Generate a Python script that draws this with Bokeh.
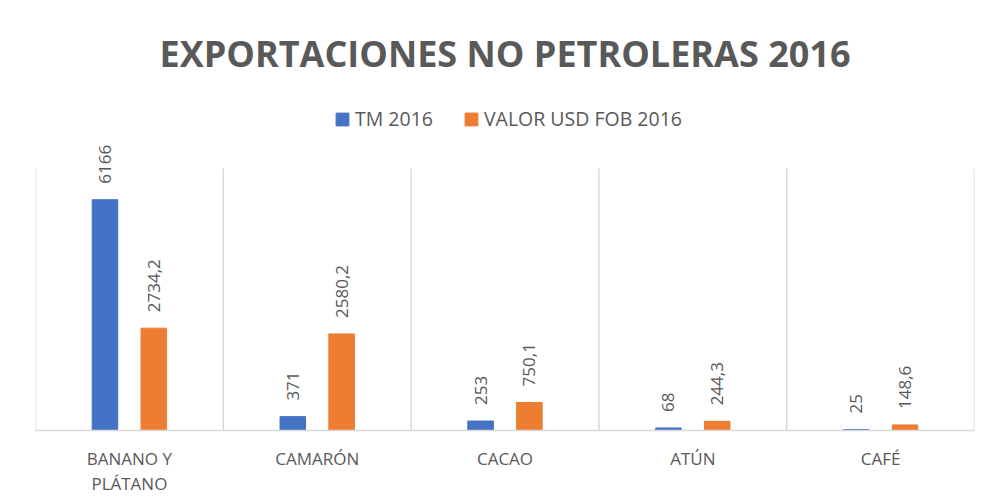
import math
from bokeh.plotting import figure
from bokeh.models import ColumnDataSource, Range1d, FixedTicker, Legend, LegendItem, LabelSet
from bokeh.core.properties import value
from bokeh.transform import dodge
from bokeh.embed import file_html
from bokeh.resources import INLINE

# ---- data ----
categories = ["BANANO Y PLÁTANO", "CAMARÓN", "CACAO", "ATÚN", "CAFÉ"]
category_labels = ["BANANO Y\nPLÁTANO", "CAMARÓN", "CACAO", "ATÚN", "CAFÉ"]
series_names = ["TM 2016", "VALOR USD FOB 2016"]
tm_2016 = [6166, 371, 253, 68, 25]
valor_usd_fob_2016 = [2734.2, 2580.2, 750.1, 244.3, 148.6]
axis_max = 7000
title_text = "EXPORTACIONES NO PETROLERAS 2016"

BLUE = "#4472C4"
ORANGE = "#ED7D31"
TEXT = "#595959"
GRID = "#D9D9D9"
FONT = "Open Sans"


def fmt(v):
    return f"{v:g}".replace(".", ",")


n = len(categories)
pos = [i + 0.5 for i in range(n)]
bounds = list(range(n + 1))
src = ColumnDataSource(dict(
    x=pos,
    tm=tm_2016,
    val=valor_usd_fob_2016,
    tm_lbl=[fmt(v) for v in tm_2016],
    val_lbl=[fmt(v) for v in valor_usd_fob_2016],
))

# plot area extends above the value axis max to host legend / labels
PLOT_PX = 262          # pixels used by 0..axis_max
FRAME_PX = 348         # total frame height in pixels
y_top = axis_max * FRAME_PX / PLOT_PX

p = figure(width=986, height=500, output_backend="svg", toolbar_location=None,
           x_range=Range1d(0, n), y_range=Range1d(0, y_top),
           y_axis_location=None, title=title_text,
           min_border_left=35, min_border_right=12, min_border_bottom=70, min_border_top=82)

p.title.align = "center"
p.title.text_font = FONT
p.title.text_font_size = "36px"
p.title.text_font_style = "bold"
p.title.text_color = TEXT
p.title.standoff = 10

# category separators (Excel style vertical gridlines)
p.segment(x0=bounds, y0=0, x1=bounds, y1=axis_max, line_color=GRID, line_width=1.5)

off = 0.13
bw = 0.136
r1 = p.vbar(x=dodge("x", -off), top="tm", width=bw, source=src, color=BLUE)
r2 = p.vbar(x=dodge("x", off), top="val", width=bw, source=src, color=ORANGE)

for xf, yf, tf in [(dodge("x", -off), "tm", "tm_lbl"), (dodge("x", off), "val", "val_lbl")]:
    p.add_layout(LabelSet(x=xf, y=yf, text=tf, source=src, angle=math.pi / 2,
                          text_align="left", text_baseline="middle", y_offset=16,
                          text_font=value(FONT), text_font_size=value("17px"),
                          text_color=TEXT))

legend = Legend(items=[LegendItem(label=series_names[0], renderers=[r1]),
                       LegendItem(label=series_names[1], renderers=[r2])],
                orientation="horizontal", location=(299, 298),
                label_text_font=FONT, label_text_font_size="19.5px", label_text_color=TEXT,
                glyph_width=16, glyph_height=16, label_standoff=5, spacing=30,
                padding=0, margin=0, border_line_color=None, background_fill_alpha=0)
p.add_layout(legend, "center")

p.xgrid.visible = False
p.ygrid.visible = False

ax = p.xaxis[0]
ax.ticker = FixedTicker(ticks=pos)
ax.major_label_overrides = {x: lbl for x, lbl in zip(pos, category_labels)}
ax.axis_line_color = GRID
ax.axis_line_width = 1.5
ax.major_tick_line_color = None
ax.minor_tick_line_color = None
ax.major_tick_out = 0
ax.major_tick_in = 0
ax.minor_tick_out = 0
ax.minor_tick_in = 0
ax.major_label_standoff = 16
ax.major_label_text_font = FONT
ax.major_label_text_font_size = "17px"
ax.major_label_text_line_height = 1.1
ax.major_label_text_color = TEXT

p.outline_line_color = None
p.background_fill_color = "white"
p.border_fill_color = "white"

open("out.html", "w").write(file_html(p, INLINE))
